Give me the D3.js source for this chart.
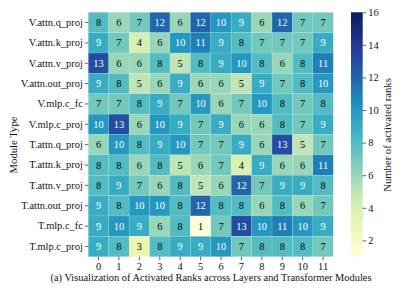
<!DOCTYPE html>
<html>
<head>
<meta charset="utf-8">
<script src="https://cdn.jsdelivr.net/npm/d3@7"></script>
<style>
  body { margin: 0; background: #fff; }
</style>
</head>
<body>
<div id="chart"></div>
<script>
// module names (rows) and layer indices (columns)
const modules = ["V.attn.q_proj", "V.attn.k_proj", "V.attn.v_proj", "V.attn.out_proj",
  "V.mlp.c_fc", "V.mlp.c_proj", "T.attn.q_proj", "T.attn.k_proj", "T.attn.v_proj",
  "T.attn.out_proj", "T.mlp.c_fc", "T.mlp.c_proj"]
const layers = [0, 1, 2, 3, 4, 5, 6, 7, 8, 9, 10, 11]

// activated ranks, one row per module
const ranks = [
  [8, 6, 7, 12, 6, 12, 10, 9, 6, 12, 7, 7],
  [9, 7, 4, 6, 10, 11, 9, 8, 7, 7, 7, 9],
  [13, 6, 6, 8, 5, 8, 9, 10, 8, 6, 8, 11],
  [9, 8, 5, 6, 9, 6, 6, 5, 9, 7, 8, 10],
  [7, 7, 8, 9, 7, 10, 6, 7, 10, 8, 7, 8],
  [10, 13, 6, 10, 9, 7, 9, 6, 6, 8, 7, 9],
  [6, 10, 8, 9, 10, 7, 7, 9, 6, 13, 5, 7],
  [8, 8, 6, 8, 5, 6, 7, 4, 9, 6, 6, 11],
  [8, 9, 7, 6, 8, 5, 6, 12, 7, 9, 9, 8],
  [9, 8, 10, 10, 8, 12, 8, 8, 6, 8, 6, 7],
  [9, 10, 9, 6, 8, 1, 7, 13, 10, 11, 10, 9],
  [9, 8, 3, 8, 9, 9, 10, 7, 8, 8, 8, 7]
]
const colorTicks = [2, 4, 6, 8, 10, 12, 14, 16]
const vmin = 1, vmax = 16

const width = 411, height = 294
const hm = {left: 88.3, right: 333.3, top: 12.3, bottom: 256.7}
const cb = {left: 351, right: 362.7}
const serif = "'Liberation Serif', 'Times New Roman', serif"
const fs = 10.4

const svg = d3.select("#chart").append("svg")
    .attr("width", width)
    .attr("height", height)
    .style("display", "block")

const x = d3.scaleBand().domain(layers).range([hm.left, hm.right])
const y = d3.scaleBand().domain(modules).range([hm.top, hm.bottom])

// YlGnBu like matplotlib (linear between the brewer colours)
const brewer = ["#ffffd9", "#edf8b1", "#c7e9b4", "#7fcdbb", "#41b6c4", "#1d91c0", "#225ea8", "#253494", "#081d58"]
const color = d3.scaleLinear()
    .domain(brewer.map((c, i) => vmin + (vmax - vmin) * i / (brewer.length - 1)))
    .range(brewer)
    .clamp(true)

function lum(c) {
  const rgb = d3.rgb(c)
  const f = v => { v /= 255; return v <= 0.03928 ? v / 12.92 : Math.pow((v + 0.055) / 1.055, 2.4) }
  return 0.2126 * f(rgb.r) + 0.7152 * f(rgb.g) + 0.0722 * f(rgb.b)
}

const cells = []
ranks.forEach((row, i) => row.forEach((v, j) => cells.push({m: modules[i], l: layers[j], v: v})))

const g = svg.append("g")
g.selectAll("rect")
  .data(cells)
  .join("rect")
    .attr("x", d => x(d.l))
    .attr("y", d => y(d.m))
    .attr("width", x.bandwidth())
    .attr("height", y.bandwidth())
    .attr("fill", d => color(d.v))
    .attr("stroke", "#fff")
    .attr("stroke-opacity", 0.3)
    .attr("stroke-width", 0.4)

g.selectAll("text")
  .data(cells)
  .join("text")
    .attr("x", d => x(d.l) + x.bandwidth() / 2)
    .attr("y", d => y(d.m) + y.bandwidth() / 2)
    .attr("text-anchor", "middle")
    .attr("dominant-baseline", "central")
    .attr("font-size", fs)
    .attr("fill", d => lum(color(d.v)) > 0.408 ? "#000" : "#fff")
    .text(d => d.v)

// axes
const yAxis = svg.append("g")
    .attr("transform", `translate(${hm.left},0)`)
    .call(d3.axisLeft(y).tickSize(3.5).tickPadding(2))
yAxis.select(".domain").remove()

const xAxis = svg.append("g")
    .attr("transform", `translate(0,${hm.bottom})`)
    .call(d3.axisBottom(x).tickSize(3.5).tickPadding(2))
xAxis.select(".domain").remove()

// colorbar
const cy = d3.scaleLinear().domain([vmin, vmax]).range([hm.bottom, hm.top])
const grad = svg.append("defs").append("linearGradient")
    .attr("id", "cbar")
    .attr("x1", 0).attr("y1", 1).attr("x2", 0).attr("y2", 0)
grad.selectAll("stop")
  .data(d3.range(0, 1.0001, 0.05))
  .join("stop")
    .attr("offset", t => t)
    .attr("stop-color", t => color(vmin + t * (vmax - vmin)))

svg.append("rect")
    .attr("x", cb.left)
    .attr("y", hm.top)
    .attr("width", cb.right - cb.left)
    .attr("height", hm.bottom - hm.top)
    .attr("fill", "url(#cbar)")

const cAxis = svg.append("g")
    .attr("transform", `translate(${cb.right},0)`)
    .call(d3.axisRight(cy).tickValues(colorTicks).tickSize(3.5).tickPadding(2))
cAxis.select(".domain").remove()

svg.selectAll(".tick text")
    .attr("font-size", fs)
    .attr("fill", "#111")
svg.selectAll(".tick line").attr("stroke", "#222").attr("stroke-width", 0.7)

// labels
svg.append("text")
    .attr("transform", "translate(386.7,135) rotate(-90)")
    .attr("text-anchor", "middle")
    .attr("dominant-baseline", "central")
    .attr("font-size", fs + 0.3)
    .attr("fill", "#111")
    .text("Number of activated ranks")

svg.append("text")
    .attr("transform", "translate(12.5,145) rotate(-90)")
    .attr("text-anchor", "middle")
    .attr("dominant-baseline", "central")
    .attr("font-size", fs + 0.3)
    .attr("fill", "#111")
    .text("Module Type")

svg.append("text")
    .attr("x", 211)
    .attr("y", 281)
    .attr("text-anchor", "middle")
    .attr("font-size", fs)
    .attr("fill", "#111")
    .text("(a) Visualization of Activated Ranks across Layers and Transformer Modules")

svg.selectAll("text").style("font-family", serif)
</script>
</body>
</html>
